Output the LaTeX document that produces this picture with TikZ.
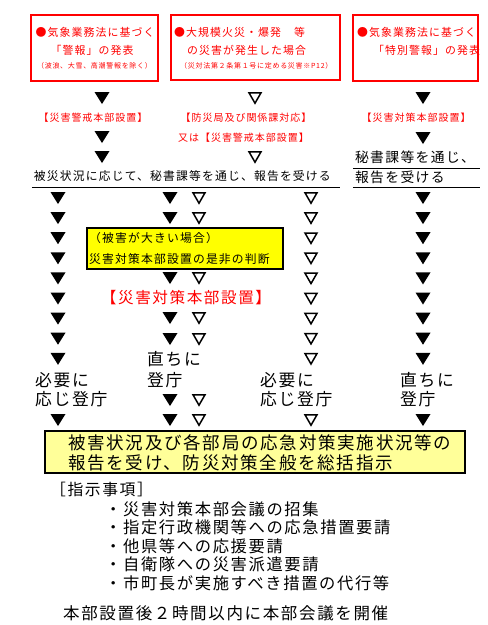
\documentclass[tikz,border=0pt]{standalone}
\usepackage{fontspec}
\setmainfont{Noto Sans CJK JP}[LetterSpace=10]
\usepackage{xcolor}
\usetikzlibrary{positioning}
\definecolor{alertred}{RGB}{255,0,0}
\definecolor{judgeyellow}{RGB}{255,255,0}
\definecolor{paleyellow}{RGB}{255,255,153}
\newcommand{\sz}[1]{\fontsize{#1}{#1}\selectfont}
\newcommand{\szl}[2]{\fontsize{#1}{#2}\selectfont}

\tikzset{
  redbox/.style={draw=alertred, line width=1.5pt, inner sep=0pt},
  redlabel/.style={text=alertred, inner sep=0pt},
  plain/.style={inner sep=0pt},
  ulined/.style={inner xsep=2pt, inner ysep=0pt, align=left},
  rule/.style={line width=1.2pt},
  filltri/.pic={\fill (-7.5,-6) -- (7.5,-6) -- (0,6) -- cycle;},
  opentri/.pic={\draw[line width=1.5pt] (-6,-5.2) -- (6,-5.2) -- (0,5.2) -- cycle;}
}

\begin{document}
\begin{tikzpicture}[x=1pt, y=-1pt]
    \useasboundingbox (0,0) rectangle (488,625);

    % trigger boxes
    \node[redbox, minimum width=127pt, minimum height=66pt] (warnbox) at (94.5,48) {};
    \node[redbox, minimum width=169pt, minimum height=65pt] (firebox) at (255.5,47.5) {};
    \node[redbox, minimum width=125pt, minimum height=66pt] (specialbox) at (415.5,48) {};

    \node[redlabel, font=\sz{10.9}] (warn1) at (95,32) {●気象業務法に基づく};
    \node[redlabel, font=\sz{10.9}] (warn2) at (92,50) {「警報」の発表};
    \node[redlabel, font=\sz{7}] (warn3) at (94.5,66) {（波浪、大雪、高潮警報を除く）};

    \node[redlabel, font=\sz{10.9}, anchor=west] (fire1) at (174,32) {●大規模火災・爆発　等};
    \node[redlabel, font=\sz{10.9}, anchor=west] (fire2) at (187,50) {の災害が発生した場合};
    \node[redlabel, font=\sz{7}, anchor=west] (fire3) at (180,66) {（災対法第２条第１号に定める災害※P12）};

    \node[redlabel, font=\sz{10.9}, anchor=west] (special1) at (357,32) {●気象業務法に基づく};
    \node[redlabel, font=\sz{10.9}, anchor=west] (special2) at (373,50) {「特別警報」の発表};

    % first response
    \node[redlabel, font=\sz{10}] (alertHQ) at (93,118) {【災害警戒本部設置】};
    \node[redlabel, font=\sz{10}] (dept) at (246,118) {【防災局及び関係課対応】};
    \node[redlabel, font=\sz{10}] (deptor) at (243.5,138) {又は【災害警戒本部設置】};
    \node[redlabel, font=\sz{10}] (disasterHQ) at (416,118) {【災害対策本部設置】};

    \pic at (102,98) {filltri};
    \pic at (102,137) {filltri};
    \pic at (102,157) {filltri};
    \pic at (255,98) {opentri};
    \pic at (255,157) {opentri};
    \pic at (423,98) {filltri};
    \pic at (423,138) {filltri};

    \node[ulined, font=\sz{11.8}, text width=304pt, minimum height=22pt] (report) at (186,176) {被災状況に応じて、秘書課等を通じ、報告を受ける};
    \node[ulined, font=\sz{13.8}, text width=123pt, minimum height=22pt] (via) at (416.5,157) {秘書課等を通じ、};
    \node[ulined, font=\sz{13.8}, text width=123pt, minimum height=20pt] (receive) at (416.5,177) {報告を受ける};
    \draw[rule] (report.south west) -- (report.south east);
    \draw[rule] (via.south west) -- (via.south east);
    \draw[rule] (receive.south west) -- (receive.south east);

    % columns of arrows
    \foreach \i in {0,...,8} {
        \pic at (58,198+20.1*\i) {filltri};
        \pic at (311,198+20.1*\i) {opentri};
        \pic at (423,198+20.1*\i) {filltri};
    }
    \foreach \y in {198,218,278,318,339,400,420} {
        \pic at (170,\y) {filltri};
        \pic at (199,\y) {opentri};
    }
    \pic at (58,420) {filltri};
    \pic at (311,420) {opentri};
    \pic at (423,420) {filltri};

    \node[draw, fill=judgeyellow, line width=1.5pt, minimum width=196pt, minimum height=41pt] (judge) at (185,248.5) {};
    \node[plain, font=\szl{11.8}{21}, align=left, anchor=west] (judgetext) at (89,248.5) {（被害が大きい場合）\\災害対策本部設置の是非の判断};

    \node[redlabel, font=\sz{15.6}] (setup) at (186,298) {【災害対策本部設置】};

    \node[plain, font=\szl{16.8}{19.5}, align=left, anchor=west] (attendA) at (35,389.5) {必要に\\応じ登庁};
    \node[plain, font=\szl{16.8}{20.5}, align=left, anchor=west] (attendB) at (147,369.5) {直ちに\\登庁};
    \node[plain, font=\szl{16.8}{19.5}, align=left, anchor=west] (attendC) at (260,389.5) {必要に\\応じ登庁};
    \node[plain, font=\szl{16.8}{19.5}, align=left, anchor=west] (attendD) at (400,389.5) {直ちに\\登庁};

    % command box
    \node[draw, fill=paleyellow, line width=1.2pt, minimum width=420pt, minimum height=42pt] (command) at (255,452) {};
    \node[plain, font=\szl{17.5}{20}, align=left, anchor=west] (commandtext) at (68,453) {被害状況及び各部局の応急対策実施状況等の\\報告を受け、防災対策全般を総括指示};

    \node[plain, font=\sz{15.8}, anchor=west] (items) at (50,489) {［指示事項］};
    \node[plain, font=\szl{16.3}{18.5}, align=left, anchor=west] (itemlist) at (105,546) {・災害対策本部会議の招集\\・指定行政機関等への応急措置要請\\・他県等への応援要請\\・自衛隊への災害派遣要請\\・市町長が実施すべき措置の代行等};

    \node[plain, font=\sz{16.5}, anchor=west] (meeting) at (63,613) {本部設置後２時間以内に本部会議を開催};
\end{tikzpicture}
\end{document}
